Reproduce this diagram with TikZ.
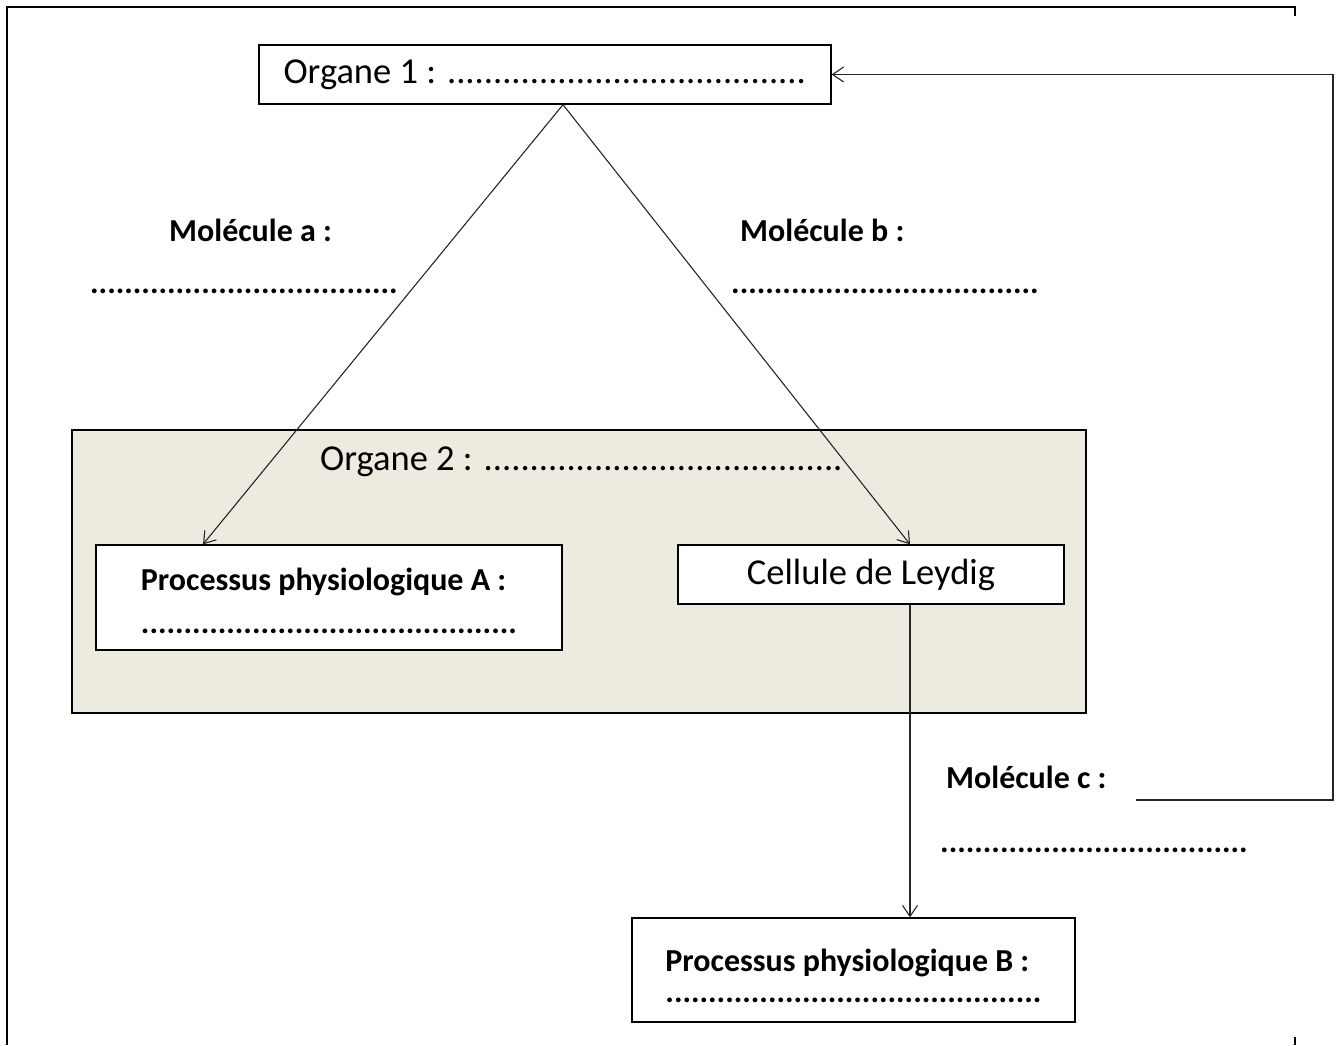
\documentclass[tikz,border=0pt]{standalone}
\usepackage{fontspec}
\setmainfont{Carlito}
\usetikzlibrary{arrows.meta,positioning}
\definecolor{beige}{RGB}{237,234,224}

\begin{document}
\begin{tikzpicture}[x=1pt, y=-1pt,
        boite/.style={draw, line width=1.3pt, inner sep=0pt},
        fleche/.style={draw=black!85, line width=1.1pt, -{Straight Barb[length=11pt,width=15pt]}},
        titre/.style={font=\fontsize{36.5}{43}\selectfont},
        gras/.style={font=\fontsize{32}{39}\selectfont\bfseries},
        etiquette/.style={anchor=base west, inner sep=0pt}]

    \useasboundingbox (0,0) rectangle (1342,1045);

    % cadre
    \draw[line width=1.8pt] (1295,16) -- (1295,7) -- (7,7) -- (7,1045);
    \draw[line width=1.8pt] (1295,1037) -- (1295,1045);

    % organes
    \node[boite, minimum width=572pt, minimum height=59pt, titre] at (545,74.5) (org1) {Organe 1 : .......................................};
    \node[boite, fill=beige, minimum width=1014pt, minimum height=283pt] at (579,571.5) (org2) {};
    \node[titre, etiquette] at (320,470) (org2txt) {Organe 2 : .......................................};

    \node[boite, fill=white, minimum width=466pt, minimum height=105pt] at (329,597.5) (procA) {};
    \node[gras, align=left] at ([yshift=-3.5pt]procA.center) (procAtxt) {Processus physiologique A :\\[4pt] ............................................};
    \node[boite, fill=white, minimum width=386pt, minimum height=59pt, titre] at (871,574.5) (leydig) {Cellule de Leydig};
    \node[boite, fill=white, minimum width=443pt, minimum height=104pt] at (853.5,970) (procB) {};
    \node[gras, align=left] at ([yshift=-6pt]procB.center) (procBtxt) {Processus physiologique B :\\[-8pt] ............................................};

    % molecules
    \node[gras, etiquette] at (169,241) (molA) {Molécule a :};
    \node[gras, etiquette] at (90,293) (molAdots) {....................................};
    \node[gras, etiquette] at (740,241) (molB) {Molécule b :};
    \node[gras, etiquette] at (731,293) (molBdots) {....................................};
    \node[gras, etiquette] at (946,788) (molC) {Molécule c :};
    \node[gras, etiquette] at (940,852) (molCdots) {....................................};

    % fleches
    \draw[fleche] ([xshift=18pt]org1.south) -- ([xshift=-126pt]procA.north);
    \draw[fleche] ([xshift=18pt]org1.south) -- ([xshift=39pt]leydig.north);
    \draw[fleche] ([xshift=39pt]leydig.south) -- ([xshift=39pt]leydig.south |- procB.north);

    \coordinate (retour) at (1136,800);
    \draw[fleche] (retour) -- ++(197,0) |- (org1.east);
\end{tikzpicture}
\end{document}
